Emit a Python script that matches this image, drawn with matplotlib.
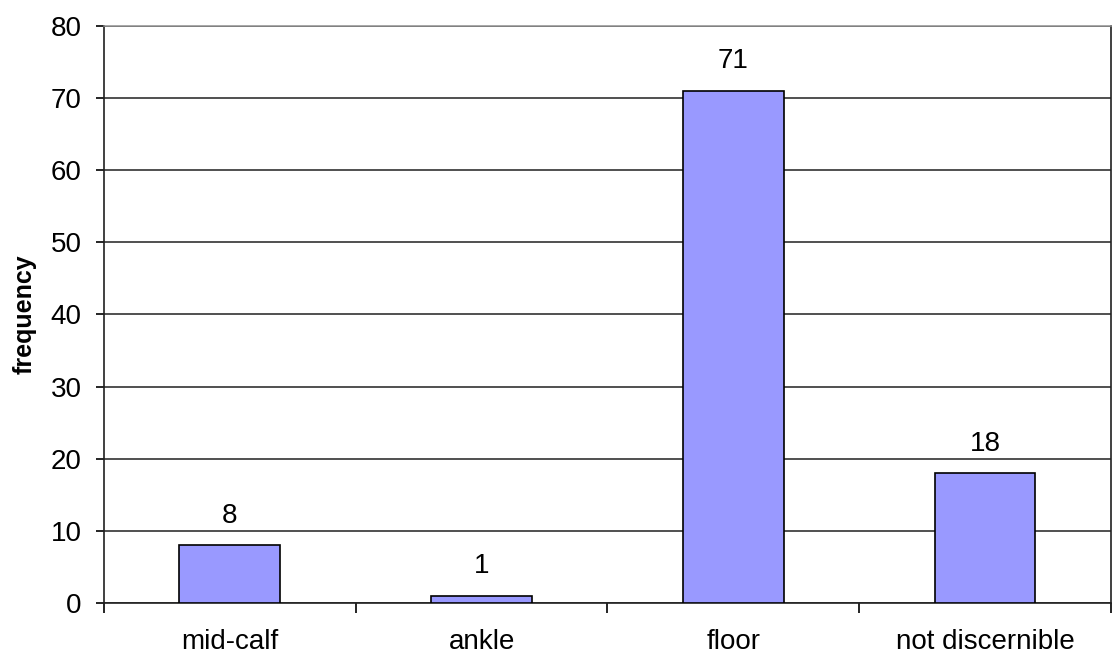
import matplotlib.pyplot as plt
import numpy as np

categories = ['mid-calf', 'ankle', 'floor', 'not discernible']
counts = [8, 1, 71, 18]
y_ticks = [0, 10, 20, 30, 40, 50, 60, 70, 80]

plt.rcParams['font.family'] = ['Liberation Sans', 'DejaVu Sans']

fig = plt.figure(figsize=(11.12, 6.55), dpi=100)
ax = fig.add_axes([0.0935, 0.0794, 0.9055, 0.8809])

x = np.arange(len(categories))
ax.bar(x, counts, width=0.4, color='#9999FF', edgecolor='black',
       linewidth=1.2, zorder=3)

# value labels above each bar
for xi, c in zip(x, counts):
    ax.annotate(str(c), (xi, c), xytext=(0, 12), textcoords='offset points',
                ha='center', va='bottom', fontsize=20)

ax.set_xlim(-0.5, len(categories) - 0.5)
ax.set_ylim(0, 80)
ax.set_yticks(y_ticks)
ax.tick_params(axis='y', labelsize=20, length=6, width=1.2, pad=10)

# category labels on major ticks, tick marks between categories
ax.set_xticks(x)
ax.set_xticklabels(categories, fontsize=20)
ax.tick_params(axis='x', which='major', length=0, pad=19)
ax.set_xticks(np.arange(len(categories) + 1) - 0.5, minor=True)
ax.tick_params(axis='x', which='minor', length=7, width=1.2)

ax.grid(axis='y', color='#202020', linewidth=1.1, zorder=0)
ax.set_ylabel('frequency', fontsize=18, fontweight='bold', labelpad=10)

for side in ['left', 'bottom', 'right']:
    ax.spines[side].set_color('#202020')
    ax.spines[side].set_linewidth(1.2)
ax.spines['top'].set_color('#909090')
ax.spines['top'].set_linewidth(1.1)

fig.savefig('out.png', dpi=100)
